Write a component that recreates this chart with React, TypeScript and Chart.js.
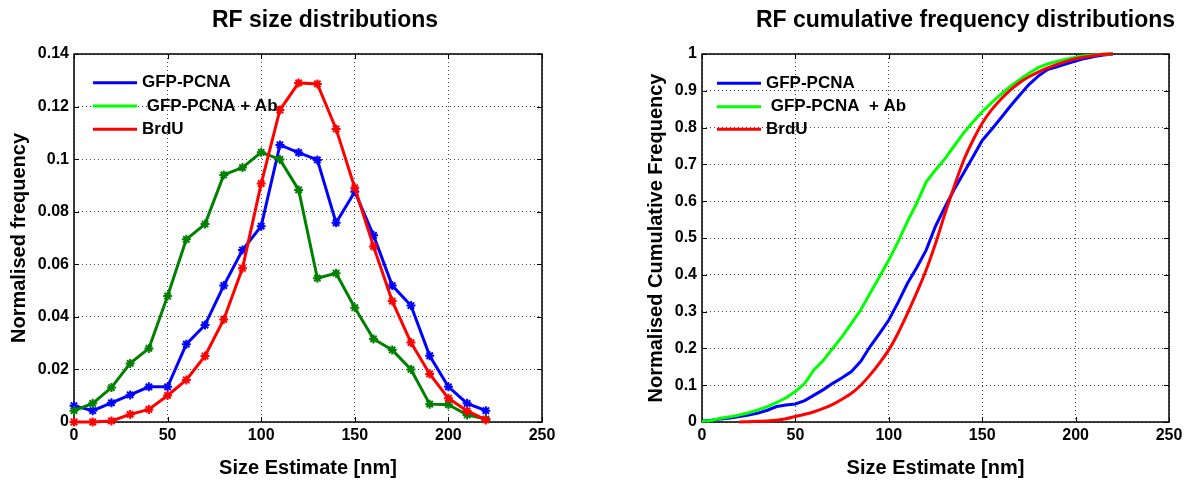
import { useEffect, useRef } from 'react';
import { Chart, registerables } from 'chart.js';

Chart.register(...registerables);

const FONT = "'Liberation Sans', Arial, Helvetica, sans-serif";

// ---------- Left chart: RF size distributions ----------
const leftTitle = 'RF size distributions';
const sizeBins = [0, 10, 20, 30, 40, 50, 60, 70, 80, 90, 100, 110, 120, 130, 140, 150, 160, 170, 180, 190, 200, 210, 220];
const gfpPcna = [0.0062, 0.0043, 0.0073, 0.0103, 0.0134, 0.0134, 0.0296, 0.0369, 0.0519, 0.0654, 0.0745, 0.1054, 0.1025, 0.0997, 0.0758, 0.0876, 0.0710, 0.0519, 0.0443, 0.0252, 0.0134, 0.0071, 0.0043];
const gfpPcnaAb = [0.0043, 0.0071, 0.0131, 0.0223, 0.0280, 0.0479, 0.0695, 0.0753, 0.0940, 0.0968, 0.1026, 0.0999, 0.0883, 0.0547, 0.0566, 0.0435, 0.0316, 0.0274, 0.0200, 0.0068, 0.0066, 0.0027, 0.0011];
const brdu = [0.0, 0.0, 0.0004, 0.0029, 0.0048, 0.0101, 0.0160, 0.0251, 0.0390, 0.0585, 0.0907, 0.1187, 0.1290, 0.1286, 0.1115, 0.0891, 0.0668, 0.0460, 0.0302, 0.0183, 0.0090, 0.0042, 0.0008];
const leftLegendLabels = ['GFP-PCNA', ' GFP-PCNA + Ab', 'BrdU'];
const leftYTicks = [0, 0.02, 0.04, 0.06, 0.08, 0.1, 0.12, 0.14];
const leftYTickLabels = ['0', '0.02', '0.04', '0.06', '0.08', '0.1', '0.12', '0.14'];
const leftYTitle = 'Normalised frequency';

// ---------- Right chart: RF cumulative frequency distributions ----------
const rightTitle = 'RF cumulative frequency distributions';
const cumSizeGrid = [0, 5, 10, 15, 20, 25, 30, 35, 40, 45, 50, 55, 60, 65, 70, 75, 80, 85, 90, 95, 100, 105, 110, 115, 120, 125, 130, 135, 140, 145, 150, 155, 160, 165, 170, 175, 180, 185, 190, 195, 200, 205, 210, 215, 220];
const gfpPcnaCum = [0.003, 0.005, 0.008, 0.011, 0.015, 0.019, 0.024, 0.032, 0.042, 0.046, 0.049, 0.058, 0.073, 0.088, 0.105, 0.120, 0.137, 0.165, 0.205, 0.240, 0.277, 0.325, 0.377, 0.420, 0.467, 0.532, 0.584, 0.632, 0.676, 0.720, 0.765, 0.795, 0.826, 0.858, 0.888, 0.917, 0.940, 0.958, 0.965, 0.973, 0.981, 0.988, 0.993, 0.997, 1.0];
const gfpPcnaAbCum = [0.002, 0.004, 0.010, 0.014, 0.019, 0.025, 0.033, 0.042, 0.053, 0.066, 0.083, 0.105, 0.142, 0.168, 0.200, 0.232, 0.268, 0.305, 0.350, 0.395, 0.440, 0.490, 0.545, 0.595, 0.652, 0.685, 0.715, 0.750, 0.785, 0.815, 0.843, 0.868, 0.890, 0.912, 0.930, 0.948, 0.963, 0.973, 0.980, 0.986, 0.991, 0.995, 0.997, 0.999, 1.0];
const brduCumSizes = [20, 25, 30, 35, 40, 45, 50, 55, 60, 65, 70, 75, 80, 85, 90, 95, 100, 105, 110, 115, 120, 125, 130, 135, 140, 145, 150, 155, 160, 165, 170, 175, 180, 185, 190, 195, 200, 205, 210, 215, 220];
const brduCum = [0.0, 0.001, 0.002, 0.003, 0.005, 0.009, 0.015, 0.021, 0.028, 0.037, 0.048, 0.062, 0.078, 0.100, 0.128, 0.160, 0.196, 0.242, 0.295, 0.352, 0.413, 0.485, 0.565, 0.640, 0.710, 0.765, 0.812, 0.848, 0.877, 0.902, 0.922, 0.938, 0.951, 0.962, 0.972, 0.980, 0.987, 0.992, 0.996, 0.999, 1.0];
const rightLegendLabels = ['GFP-PCNA', ' GFP-PCNA  + Ab', 'BrdU'];
const rightYTicks = [0, 0.1, 0.2, 0.3, 0.4, 0.5, 0.6, 0.7, 0.8, 0.9, 1];
const rightYTickLabels = ['0', '0.1', '0.2', '0.3', '0.4', '0.5', '0.6', '0.7', '0.8', '0.9', '1'];
const rightYTitle = 'Normalised Cumulative Frequency';

// ---------- shared ----------
const xTicks = [0, 50, 100, 150, 200, 250];
const xTickLabels = ['0', '50', '100', '150', '200', '250'];
const xTitle = 'Size Estimate [nm]';

const BLUE = '#0000ff';
const DARK_GREEN = '#008000';
const LIME = '#00ff00';
const RED = '#ff0000';

const boxPlugin = {
  id: 'matlabBox',
  beforeDatasetsDraw(chart: any) {
    const { ctx, chartArea } = chart;
    const { left, right, top, bottom } = chartArea;
    const x = chart.scales.x;
    const y = chart.scales.y;
    ctx.save();
    ctx.strokeStyle = '#000';
    ctx.lineWidth = 1;
    ctx.beginPath();
    x.ticks.forEach((t: any) => {
      const px = Math.round(x.getPixelForValue(t.value)) + 0.5;
      ctx.moveTo(px, bottom);
      ctx.lineTo(px, bottom - 5);
      ctx.moveTo(px, top);
      ctx.lineTo(px, top + 5);
    });
    y.ticks.forEach((t: any) => {
      const py = Math.round(y.getPixelForValue(t.value)) + 0.5;
      ctx.moveTo(left, py);
      ctx.lineTo(left + 5, py);
      ctx.moveTo(right, py);
      ctx.lineTo(right - 5, py);
    });
    ctx.stroke();
    ctx.lineWidth = 1.5;
    ctx.strokeRect(left, top, right - left, bottom - top);
    ctx.restore();
  },
};

const insideLegend = {
  id: 'insideLegend',
  afterDatasetsDraw(chart: any, _args: any, opts: any) {
    const { ctx, chartArea } = chart;
    ctx.save();
    ctx.font = `bold ${opts.fontSize}px ${FONT}`;
    ctx.textBaseline = 'middle';
    ctx.textAlign = 'left';
    chart.data.datasets.forEach((ds: any, i: number) => {
      const yy = chartArea.top + opts.rowY[i];
      ctx.strokeStyle = opts.colors[i];
      ctx.lineWidth = 3;
      ctx.beginPath();
      ctx.moveTo(chartArea.left + opts.lineX0, yy);
      ctx.lineTo(chartArea.left + opts.lineX1, yy);
      ctx.stroke();
      ctx.fillStyle = '#000';
      ctx.fillText(ds.label, chartArea.left + opts.textX, yy);
    });
    ctx.restore();
  },
};

function makeOptions(p: {
  title: string;
  yTitle: string;
  yMax: number;
  yTicks: number[];
  yTickLabels: string[];
  yWidth: number;
  rightWidth: number;
  yTitlePad: number;
  legend: any;
}) {
  const tickFont = { family: FONT, size: 16, weight: 'bold' as const };
  const axisTitleFont = { family: FONT, size: 20, weight: 'bold' as const };
  return {
    animation: false as const,
    responsive: false,
    devicePixelRatio: 1,
    events: [] as any[],
    layout: { padding: 0 },
    plugins: {
      legend: { display: false },
      tooltip: { enabled: false },
      title: {
        display: true,
        text: p.title,
        color: '#000',
        font: { family: FONT, size: 23, weight: 'bold' as const },
        padding: { top: 7, bottom: 19.4 },
      },
      insideLegend: p.legend,
    },
    scales: {
      x: {
        type: 'linear' as const,
        min: 0,
        max: 250,
        afterBuildTicks: (s: any) => {
          s.ticks = xTicks.map((v) => ({ value: v }));
        },
        afterFit: (s: any) => {
          s.height = 59;
        },
        ticks: {
          color: '#000',
          font: tickFont,
          padding: 4,
          autoSkip: false,
          maxRotation: 0,
          callback: (_v: any, i: number) => xTickLabels[i],
        },
        grid: { color: '#444', lineWidth: 1, drawTicks: false },
        border: { display: false, dash: [1, 3] },
        title: { display: true, text: xTitle, color: '#000', font: axisTitleFont, padding: { top: 0, bottom: 1 } },
      },
      y: {
        type: 'linear' as const,
        position: 'left' as const,
        min: 0,
        max: p.yMax,
        afterBuildTicks: (s: any) => {
          s.ticks = p.yTicks.map((v) => ({ value: v }));
        },
        afterFit: (s: any) => {
          s.width = p.yWidth;
        },
        ticks: {
          color: '#000',
          font: tickFont,
          padding: 5,
          autoSkip: false,
          callback: (_v: any, i: number) => p.yTickLabels[i],
        },
        grid: { color: '#444', lineWidth: 1, drawTicks: false },
        border: { display: false, dash: [1, 3] },
        title: { display: true, text: p.yTitle, color: '#000', font: axisTitleFont, padding: { top: p.yTitlePad, bottom: 0 } },
      },
      yPad: {
        type: 'linear' as const,
        position: 'right' as const,
        display: true,
        afterFit: (s: any) => {
          s.width = p.rightWidth;
        },
        ticks: { display: false },
        grid: { display: false, drawOnChartArea: false },
        border: { display: false },
      },
    },
  };
}

export default function App() {
  const leftRef = useRef<HTMLCanvasElement>(null);
  const rightRef = useRef<HTMLCanvasElement>(null);

  useEffect(() => {
    const markerDs = (label: string, data: number[], color: string, order: number) => ({
      label,
      data: sizeBins.map((x, i) => ({ x, y: data[i] })),
      borderColor: color,
      backgroundColor: color,
      borderWidth: 3,
      pointStyle: 'star',
      pointRadius: 4.5,
      pointBorderWidth: 2,
      pointBorderColor: color,
      pointBackgroundColor: color,
      clip: false,
      order,
    });

    const left = new Chart(leftRef.current as HTMLCanvasElement, {
      type: 'line',
      data: {
        datasets: [
          markerDs(leftLegendLabels[0], gfpPcna, BLUE, 3),
          markerDs(leftLegendLabels[1], gfpPcnaAb, DARK_GREEN, 2),
          markerDs(leftLegendLabels[2], brdu, RED, 1),
        ] as any,
      },
      options: makeOptions({
        title: leftTitle,
        yTitle: leftYTitle,
        yMax: 0.14,
        yTicks: leftYTicks,
        yTickLabels: leftYTickLabels,
        yWidth: 74,
        rightWidth: 108,
        yTitlePad: 7,
        legend: { fontSize: 17, colors: [BLUE, LIME, RED], lineX0: 19, lineX1: 63, textX: 68, rowY: [28.7, 52, 75.3] },
      }) as any,
      plugins: [boxPlugin, insideLegend],
    });

    const lineDs = (label: string, xs: number[], ys: number[], color: string, order: number, smooth: boolean) => ({
      label,
      data: xs.map((x, i) => ({ x, y: ys[i] })),
      borderColor: color,
      backgroundColor: color,
      borderWidth: 3,
      pointRadius: 0,
      clip: false,
      order,
      cubicInterpolationMode: smooth ? 'monotone' : 'default',
    });

    const right = new Chart(rightRef.current as HTMLCanvasElement, {
      type: 'line',
      data: {
        datasets: [
          lineDs(rightLegendLabels[0], cumSizeGrid, gfpPcnaCum, BLUE, 3, false),
          lineDs(rightLegendLabels[1], cumSizeGrid, gfpPcnaAbCum, LIME, 2, false),
          lineDs(rightLegendLabels[2], brduCumSizes, brduCum, RED, 1, true),
        ] as any,
      },
      options: makeOptions({
        title: rightTitle,
        yTitle: rightYTitle,
        yMax: 1,
        yTicks: rightYTicks,
        yTickLabels: rightYTickLabels,
        yWidth: 102,
        rightWidth: 162,
        yTitlePad: 44,
        legend: { fontSize: 17, colors: [BLUE, LIME, RED], lineX0: 15, lineX1: 59, textX: 64, rowY: [29.3, 52.7, 75.3] },
      }) as any,
      plugins: [boxPlugin, insideLegend],
    });

    return () => {
      left.destroy();
      right.destroy();
    };
  }, []);

  return (
    <div style={{ position: 'absolute', left: 0, top: 0, width: 1189, height: 481, overflow: 'hidden', background: '#fff' }}>
      <canvas ref={leftRef} width={650} height={481} style={{ position: 'absolute', left: 0, top: 0 }} />
      <canvas ref={rightRef} width={731} height={481} style={{ position: 'absolute', left: 600, top: 0 }} />
    </div>
  );
}
